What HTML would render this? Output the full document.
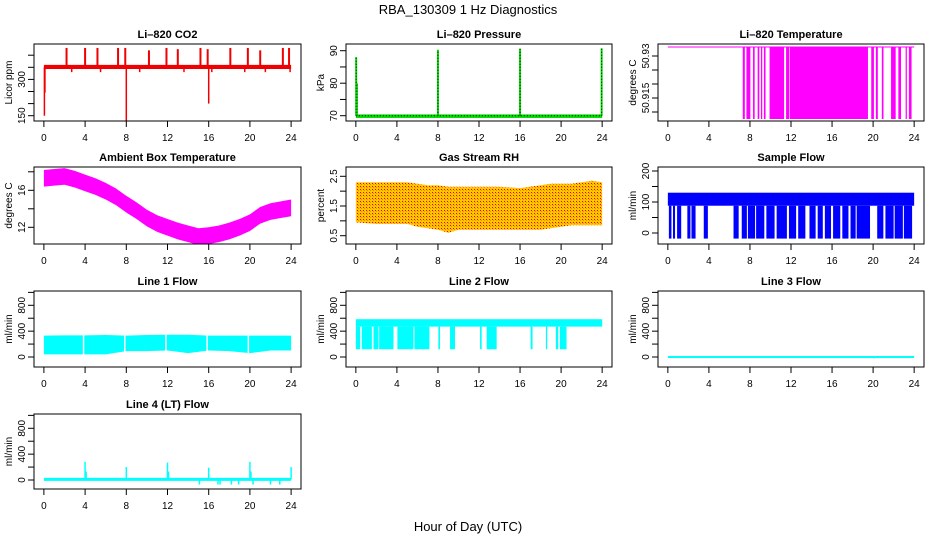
<!DOCTYPE html>
<html><head><meta charset="utf-8"><style>
html,body{margin:0;padding:0;background:#fff}
svg{display:block;font-family:"Liberation Sans",Arial,sans-serif}
</style></head><body>
<svg id="c" width="936" height="540" xmlns="http://www.w3.org/2000/svg">
<defs>
<pattern id="rhpat" width="3" height="3" patternUnits="userSpaceOnUse">
<rect width="3" height="3" fill="#ffc800"/>
<rect x="0" y="0" width="1" height="1" fill="#f00000"/>
<rect x="1" y="1" width="1" height="1" fill="#ff8000"/>
</pattern>
</defs>
<text x="468" y="14" text-anchor="middle" font-size="13">RBA_130309  1 Hz Diagnostics</text>
<text x="468" y="531" text-anchor="middle" font-size="13">Hour of Day (UTC)</text>
</svg>
<script>
// ---- data ----
const hours = [0,4,8,12,16,20,24];
// CO2
const co2Base = 350, co2BandLo = 343, co2BandHi = 360;
const co2UpHours = [2.2,4,5.2,7.2,7.9,10.2,11.9,13,15.2,15.9,18.1,19.8,21,23.2,23.8];
const co2UpVals = [430,430,430,430,430,420,430,425,430,425,430,430,420,430,430];
const co2DownHours = [0.05,0.1,8,16,2.7,5.5,9.3,13.6,16.3,19.5,21.5,23.9];
const co2DownVals = [150,245,120,200,330,330,330,330,330,330,330,330];
// Pressure
const presBandLo = 69.3, presBandHi = 70.4;
const presSpikeHours = [0.03,0.1,8,16,23.95];
const presSpikeVals = [88,80,90.3,90.6,90.7];
// Li-820 temperature
const ltHigh = 50.9332, ltLow = 50.9075;
const ltDropStart = [7.30,7.66,8.30,8.75,9.07,9.36,9.91,11.52,11.90,19.82,20.27,20.85,21.75,22.46,23.17,23.49];
const ltDropEnd   = [7.50,8.04,8.46,8.91,9.20,9.52,11.33,11.84,19.50,20.08,20.46,21.01,22.20,22.72,23.29,23.75];
// Ambient box temperature
const ambHours = [0,1,2,3,4,5,6,7,8,9,10,11,12,13,14,15,16,17,18,19,20,21,22,23,24];
const ambMid = [17.3,17.4,17.5,17.2,16.8,16.4,15.9,15.3,14.5,13.8,13.0,12.4,12.0,11.6,11.3,11.0,11.1,11.3,11.6,12.0,12.5,13.3,13.7,13.9,14.1];
const ambHalfWidth = 0.9;
// Gas stream RH
const rhHours = [0,2,4,5,6,7,8,9,10,12,14,16,18,19,20,21,22,23,24];
const rhUpper = [2.3,2.3,2.3,2.3,2.25,2.2,2.2,2.15,2.15,2.15,2.15,2.1,2.2,2.25,2.25,2.25,2.3,2.35,2.3];
const rhLower = [0.95,0.9,0.9,0.9,0.8,0.75,0.7,0.6,0.7,0.7,0.7,0.7,0.7,0.75,0.8,0.85,0.85,0.85,0.85];
// Sample flow
const sfBandLo = 88, sfBandHi = 130, sfDropVal = -18;
const sfDropStart = [0.1,0.5,0.9,1.9,2.3,3.5,6.4,7.2,7.8,8.6,9.6,10.6,11.8,12.7,13.8,14.6,15.3,16.1,17.0,17.8,18.4,20.4,21.2,22.1,23.0];
const sfDropEnd   = [0.35,0.7,1.3,2.2,2.7,3.9,6.9,7.7,8.5,9.4,10.4,11.6,12.5,13.4,14.4,15.1,15.9,16.8,17.6,18.3,19.7,21.0,22.0,22.9,23.8];
// Line 1 flow
const l1Hours = [0,2,4,6,8,10,12,14,16,18,20,22,24];
const l1Upper = [330,335,335,340,330,340,345,345,330,330,330,330,330];
const l1Lower = [40,40,40,40,90,90,100,60,100,90,60,100,100];
const l1GapHours = [3.85,7.85,11.85,15.85,19.85];
// Line 2 flow
const l2BandLo = 470, l2BandHi = 585, l2DropVal = 120;
const l2DropStart = [0,0.58,1.72,2.27,4.05,5.71,8.04,9.18,12.1,12.75,17.03,18.52,19.49,19.88];
const l2DropEnd   = [0.42,1.56,2.2,3.67,5.61,7.17,8.2,9.66,12.26,13.72,17.22,18.65,19.72,20.53];
// Line 3 flow
const l3Base = 0;
const l3DipHours = [15.2,17.5,20.1,22.4];
const l3DipVals = [-15,-12,-25,-12];
// Line 4 flow
const l4Base = 10;
const l4SpikeHours = [4,4.1,8,12,12.1,16,20,20.1,24,15.1,16.9,17.1,18.2,18.9,20.3,22,22.9];
const l4SpikeVals = [280,130,200,270,130,190,280,130,200,-70,-70,-70,-70,-70,-70,-70,-70];

// ---- helpers ----
const NS = "http://www.w3.org/2000/svg";
const svg = document.getElementById('c');
function mk(tag, attrs, parent){ const e=document.createElementNS(NS,tag); for(const k in attrs) e.setAttribute(k,attrs[k]); (parent||svg).appendChild(e); return e; }
const cols = [[34,301],[346,612],[658,924]];
const rows = [[44,121],[167,244],[291,367],[414,489]];
function makePanel(ci, ri, name, title, ylab, cal, ticks, labels){
  const [x0,x1]=cols[ci], [y0,y1]=rows[ri];
  const sx = h => x0 + (h+0.96)*(x1-x0)/25.92;
  const sy = v => cal[1] + (v-cal[0])*(cal[3]-cal[1])/(cal[2]-cal[0]);
  const g = mk('g',{});
  
  
  const cp = mk('clipPath',{id:'cp'+name},g); mk('rect',{x:x0,y:y0,width:x1-x0,height:y1-y0},cp);
  const plot = mk('g',{'clip-path':'url(#cp'+name+')'},g);
  
  
  const t = mk('text',{x:(x0+x1)/2,y:y0-6,'text-anchor':'middle','font-size':'11','font-weight':'bold'},g);
  t.textContent = title;
  
  
  const yl = mk('text',{transform:`translate(${x0-22},${(y0+y1)/2}) rotate(-90)`,'text-anchor':'middle','font-size':'10'},g);
  yl.textContent = ylab;
  
  
  hours.forEach(h=>{
    const x=sx(h);
    mk('line',{x1:x,x2:x,y1:y1,y2:y1+6,stroke:'#000'},g);
    const tl=mk('text',{x:x,y:y1+20,'text-anchor':'middle','font-size':'10'},g);
    tl.textContent=h;
    
    
  });
  ticks.forEach(v=>{
    const y=sy(v);
    mk('line',{x1:x0-6,x2:x0,y1:y,y2:y,stroke:'#000'},g);
  });
  labels.forEach(v=>{
    const y=sy(v);
    const tl=mk('text',{transform:`translate(${x0-9},${y}) rotate(-90)`,'text-anchor':'middle','font-size':'10'},g);
    tl.textContent=String(v);
    
    
  });
  const fr = mk('rect',{x:x0,y:y0,width:x1-x0,height:y1-y0,fill:'none',stroke:'#000'},g);
  
  
  return {sx,sy,plot,name};
}
function vline(p,h,v0,v1,col,w){ return mk('line',{x1:p.sx(h),x2:p.sx(h),y1:p.sy(v0),y2:p.sy(v1),stroke:col,'stroke-width':w||1},p.plot); }
function bandRect(p,h0,h1,v0,v1,fill){ const a=p.sy(v0),b=p.sy(v1); return mk('rect',{x:p.sx(h0),y:Math.min(a,b),width:p.sx(h1)-p.sx(h0),height:Math.abs(a-b),fill:fill},p.plot); }
function bandPoly(p,xs,lo,hi,fill){
  let pts=xs.map((h,i)=>p.sx(h)+','+p.sy(hi[i]));
  pts=pts.concat(xs.map((h,i)=>p.sx(h)+','+p.sy(lo[i])).reverse());
  return mk('polygon',{points:pts.join(' '),fill:fill},p.plot);
}

// ---- CO2 ----
{
 const p=makePanel(0,0,'co2','Li\u2013820 CO2','Licor ppm',[150,115.7,400,55.2],[150,200,250,300,350,400],[150,300]);
 const b=bandRect(p,0,24,co2BandLo,co2BandHi,'#f00000');
  
 co2UpHours.forEach((h,i)=>{ const l=vline(p,h,co2Base,co2UpVals[i],'#f00000',2);
     });
 co2DownHours.forEach((h,i)=>{ const l=vline(p,h,co2Base,co2DownVals[i],'#f00000',1.5);
     });
}
// ---- Pressure ----
{
 const p=makePanel(1,0,'pressure','Li\u2013820 Pressure','kPa',[70,115.7,90,50.7],[70,75,80,85,90],[70,80,90]);
 const b=bandRect(p,0,24,presBandLo,presBandHi,'#00dd00');
  
 const d=mk('line',{x1:p.sx(0),x2:p.sx(24),y1:p.sy(70),y2:p.sy(70),stroke:'#000','stroke-dasharray':'1 2'},p.plot);
  
 presSpikeHours.forEach((h,i)=>{ const l=vline(p,h,70,presSpikeVals[i],'#00dd00',2);
    
   const l2=mk('line',{x1:p.sx(h),x2:p.sx(h),y1:p.sy(70),y2:p.sy(presSpikeVals[i]),stroke:'#000','stroke-dasharray':'1 2'},p.plot);
     });
}
// ---- Li-820 temperature ----
{
 const p=makePanel(2,0,'li820-temp','Li\u2013820 Temperature','degrees C',[50.930,56,50.910,112],[50.910,50.915,50.920,50.925,50.930],[50.915,50.930]);
 const l=mk('line',{x1:p.sx(0),x2:p.sx(24),y1:p.sy(ltHigh),y2:p.sy(ltHigh),stroke:'#ff00ff'},p.plot);
  
 ltDropStart.forEach((s,i)=>{ const r=bandRect(p,s,ltDropEnd[i],ltLow,ltHigh,'#ff00ff');
     });
}
// ---- Ambient ----
{
 const p=makePanel(0,1,'ambient-temp','Ambient Box Temperature','degrees C',[12,227.3,16,190.3],[12,14,16,18],[12,16]);
 const b=bandPoly(p,ambHours,ambMid.map(v=>v-ambHalfWidth),ambMid.map(v=>v+ambHalfWidth),'#ff00ff');
  
}
// ---- RH ----
{
 const p=makePanel(1,1,'gas-rh','Gas Stream RH','percent',[0.5,235.7,2.5,176.3],[0.5,1,1.5,2,2.5],[0.5,1.5,2.5]);
 const b=bandPoly(p,rhHours,rhLower,rhUpper,'url(#rhpat)');
  
}
// ---- Sample flow ----
{
 const p=makePanel(2,1,'sample-flow','Sample Flow','ml/min',[0,233,200,171],[0,50,100,150,200],[0,100,200]);
 const b=bandRect(p,0,24,sfBandLo,sfBandHi,'#0000ff');
  
 sfDropStart.forEach((s,i)=>{ const r=bandRect(p,s,sfDropEnd[i],sfDropVal,sfBandLo,'#0000ff');
     });
}
// ---- Line 1 ----
{
 const p=makePanel(0,2,'line1-flow','Line 1 Flow','ml/min',[0,357,800,305.3],[0,200,400,600,800,1000],[0,400,800]);
 const b=bandPoly(p,l1Hours,l1Lower,l1Upper,'#00ffff');
  
 l1GapHours.forEach(h=>{ const l=vline(p,h,l1Lower[0]-20,400,'#fff',1.5);
     });
}
// ---- Line 2 ----
{
 const p=makePanel(1,2,'line2-flow','Line 2 Flow','ml/min',[0,357,800,305.3],[0,200,400,600,800,1000],[0,400,800]);
 const b=bandRect(p,0,24,l2BandLo,l2BandHi,'#00ffff');
  
 l2DropStart.forEach((s,i)=>{ const r=bandRect(p,s,l2DropEnd[i],l2DropVal,l2BandLo,'#00ffff');
     });
}
// ---- Line 3 ----
{
 const p=makePanel(2,2,'line3-flow','Line 3 Flow','ml/min',[0,357,800,305.3],[0,200,400,600,800,1000],[0,400,800]);
 const l=mk('line',{x1:p.sx(0),x2:p.sx(24),y1:p.sy(l3Base),y2:p.sy(l3Base),stroke:'#00ffff','stroke-width':2},p.plot);
  
 l3DipHours.forEach((h,i)=>{ const d=vline(p,h,l3Base,l3DipVals[i],'#00ffff',1);
     });
}
// ---- Line 4 ----
{
 const p=makePanel(0,3,'line4-flow','Line 4 (LT) Flow','ml/min',[0,480,800,428.3],[0,200,400,600,800,1000],[0,400,800]);
 const l=mk('line',{x1:p.sx(0),x2:p.sx(24),y1:p.sy(l4Base),y2:p.sy(l4Base),stroke:'#00ffff','stroke-width':3},p.plot);
  
 l4SpikeHours.forEach((h,i)=>{ const d=vline(p,h,l4Base,l4SpikeVals[i],'#00ffff',1.5);
     });
}
</script>
</body></html>
